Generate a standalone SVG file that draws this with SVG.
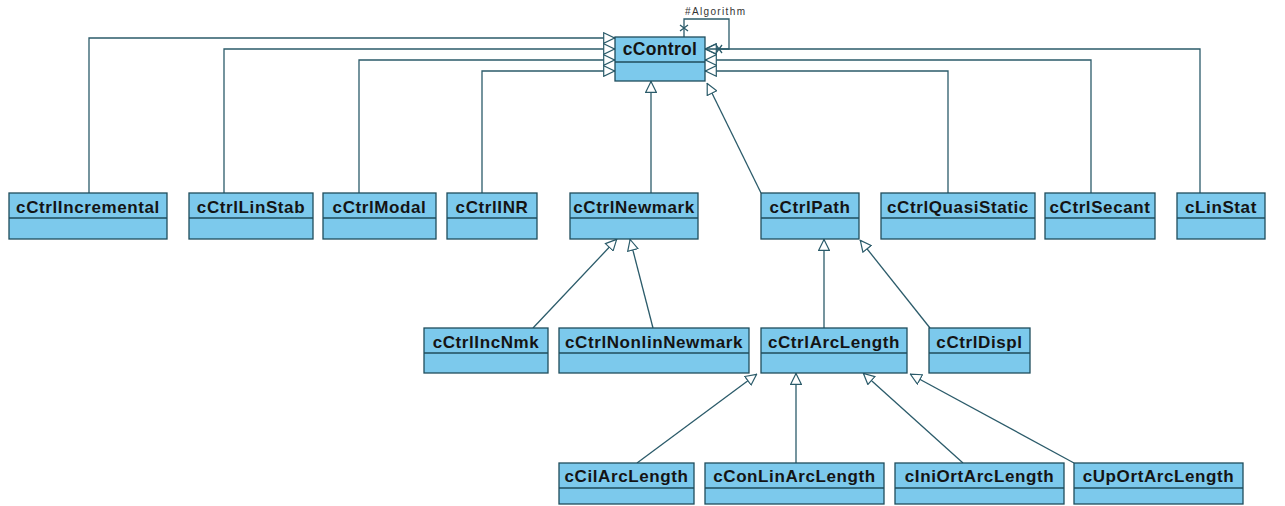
<svg xmlns="http://www.w3.org/2000/svg" width="1285" height="506" viewBox="0 0 1285 506">
  <style>
    .box { fill: #7cc9ec; stroke: #1f4d5c; stroke-width: 1.3; }
    .sep { stroke: #1f4d5c; stroke-width: 1.3; }
    .name { font-family: "Liberation Sans", Arial, sans-serif; font-weight: bold; font-size: 17px; letter-spacing: 0.6px; fill: #141414; text-anchor: middle; }
    .big { font-size: 17.5px; letter-spacing: 0.3px; }
    .edge { fill: none; stroke: #2b5b6a; stroke-width: 1.3; }
    .gen { marker-end: url(#tri); }
    .lbl { font-family: "Liberation Sans", Arial, sans-serif; font-size: 10px; fill: #333; }
  </style>
  <defs>
    <!-- hollow generalization triangle -->
    <marker id="tri" viewBox="0 0 12 12" refX="12" refY="6" markerWidth="12" markerHeight="12" markerUnits="userSpaceOnUse" orient="auto">
      <path d="M0.7,0.7 L11.5,6 L0.7,11.3 Z" fill="#fff" stroke="#2b5b6a" stroke-width="1.2"/>
    </marker>
    <!-- open navigable association arrow -->
    <marker id="open" viewBox="0 0 12 12" refX="12" refY="6" markerWidth="12" markerHeight="12" markerUnits="userSpaceOnUse" orient="auto">
      <path d="M1,1 L11.5,6 L1,11" fill="none" stroke="#2b5b6a" stroke-width="1.2"/>
    </marker>
  </defs>

  <rect width="1285" height="506" fill="#fff"/>

  <g id="connectors">
    <!-- subclasses routed to the left side of cControl -->
    <path class="edge gen" d="M89,193 V38 H615"/>
    <path class="edge gen" d="M224,193 V49 H615"/>
    <path class="edge gen" d="M359,193 V60 H615"/>
    <path class="edge gen" d="M482,193 V71 H615"/>
    <!-- subclasses routed to the right side of cControl -->
    <path class="edge gen" d="M1200,193 V49 H705"/>
    <path class="edge gen" d="M1091,193 V60 H705"/>
    <path class="edge gen" d="M948,193 V71 H705"/>
    <!-- direct from below -->
    <path class="edge gen" d="M651,193 V81"/>
    <path class="edge gen" d="M761,193 L707,83"/>
    <!-- Newmark family -->
    <path class="edge gen" d="M533,328 L617,239"/>
    <path class="edge gen" d="M653,328 L630,239"/>
    <!-- Path family -->
    <path class="edge gen" d="M824,328 V239"/>
    <path class="edge gen" d="M930,328 L860,240"/>
    <!-- ArcLength family -->
    <path class="edge gen" d="M637,463 L757,374"/>
    <path class="edge gen" d="M796,463 V373"/>
    <path class="edge gen" d="M963,463 L863,373"/>
    <path class="edge gen" d="M1074,463 L910,374"/>
    <!-- self association #Algorithm -->
    <path class="edge" d="M684,37 V19 H729 V49 H705" marker-end="url(#open)"/>
    <path class="edge" d="M680,25 L688,31 M688,25 L680,31"/>
    <path class="edge" d="M716,45 L722,53 M722,45 L716,53"/>
    <text class="lbl" x="685" y="15" textLength="60">#Algorithm</text>
  </g>

  <g id="cControl">
    <rect class="box" x="615" y="37" width="90" height="44"/>
    <line class="sep" x1="615" y1="62" x2="705" y2="62"/>
    <text class="name big" x="660" y="55">cControl</text>
  </g>

  <g id="cCtrlIncremental">
    <rect class="box" x="9" y="193" width="158" height="46"/>
    <line class="sep" x1="9" y1="218" x2="167" y2="218"/>
    <text class="name" x="88" y="213">cCtrlIncremental</text>
  </g>
  <g id="cCtrlLinStab">
    <rect class="box" x="189" y="193" width="124" height="46"/>
    <line class="sep" x1="189" y1="218" x2="313" y2="218"/>
    <text class="name" x="251" y="213">cCtrlLinStab</text>
  </g>
  <g id="cCtrlModal">
    <rect class="box" x="323" y="193" width="113" height="46"/>
    <line class="sep" x1="323" y1="218" x2="436" y2="218"/>
    <text class="name" x="379.500" y="213">cCtrlModal</text>
  </g>
  <g id="cCtrlINR">
    <rect class="box" x="447" y="193" width="90" height="46"/>
    <line class="sep" x1="447" y1="218" x2="537" y2="218"/>
    <text class="name" x="492" y="213">cCtrlINR</text>
  </g>
  <g id="cCtrlNewmark">
    <rect class="box" x="570" y="193" width="128" height="46"/>
    <line class="sep" x1="570" y1="218" x2="698" y2="218"/>
    <text class="name" x="634" y="213">cCtrlNewmark</text>
  </g>
  <g id="cCtrlPath">
    <rect class="box" x="761" y="193" width="98" height="46"/>
    <line class="sep" x1="761" y1="218" x2="859" y2="218"/>
    <text class="name" x="810" y="213">cCtrlPath</text>
  </g>
  <g id="cCtrlQuasiStatic">
    <rect class="box" x="881" y="193" width="154" height="46"/>
    <line class="sep" x1="881" y1="218" x2="1035" y2="218"/>
    <text class="name" x="958" y="213">cCtrlQuasiStatic</text>
  </g>
  <g id="cCtrlSecant">
    <rect class="box" x="1045" y="193" width="110" height="46"/>
    <line class="sep" x1="1045" y1="218" x2="1155" y2="218"/>
    <text class="name" x="1100" y="213">cCtrlSecant</text>
  </g>
  <g id="cLinStat">
    <rect class="box" x="1177" y="193" width="88" height="46"/>
    <line class="sep" x1="1177" y1="218" x2="1265" y2="218"/>
    <text class="name" x="1221" y="213">cLinStat</text>
  </g>

  <g id="cCtrlIncNmk">
    <rect class="box" x="424" y="328" width="124" height="45"/>
    <line class="sep" x1="424" y1="353" x2="548" y2="353"/>
    <text class="name" x="486" y="348">cCtrlIncNmk</text>
  </g>
  <g id="cCtrlNonlinNewmark">
    <rect class="box" x="559" y="328" width="190" height="45"/>
    <line class="sep" x1="559" y1="353" x2="749" y2="353"/>
    <text class="name" x="654" y="348">cCtrlNonlinNewmark</text>
  </g>
  <g id="cCtrlArcLength">
    <rect class="box" x="761" y="328" width="146" height="45"/>
    <line class="sep" x1="761" y1="353" x2="907" y2="353"/>
    <text class="name" x="834" y="348">cCtrlArcLength</text>
  </g>
  <g id="cCtrlDispl">
    <rect class="box" x="929" y="328" width="101" height="45"/>
    <line class="sep" x1="929" y1="353" x2="1030" y2="353"/>
    <text class="name" x="979.500" y="348">cCtrlDispl</text>
  </g>

  <g id="cCilArcLength">
    <rect class="box" x="559" y="463" width="135" height="41"/>
    <line class="sep" x1="559" y1="488" x2="694" y2="488"/>
    <text class="name" x="626.500" y="482">cCilArcLength</text>
  </g>
  <g id="cConLinArcLength">
    <rect class="box" x="705" y="463" width="179" height="41"/>
    <line class="sep" x1="705" y1="488" x2="884" y2="488"/>
    <text class="name" x="794.500" y="482">cConLinArcLength</text>
  </g>
  <g id="cIniOrtArcLength">
    <rect class="box" x="895" y="463" width="169" height="41"/>
    <line class="sep" x1="895" y1="488" x2="1064" y2="488"/>
    <text class="name" x="979.500" y="482">cIniOrtArcLength</text>
  </g>
  <g id="cUpOrtArcLength">
    <rect class="box" x="1074" y="463" width="169" height="41"/>
    <line class="sep" x1="1074" y1="488" x2="1243" y2="488"/>
    <text class="name" x="1158.500" y="482">cUpOrtArcLength</text>
  </g>
</svg>
